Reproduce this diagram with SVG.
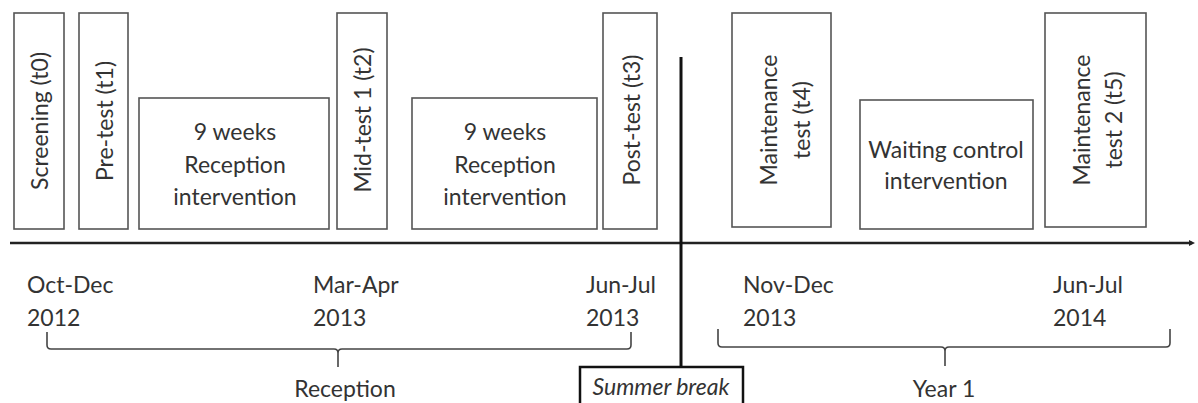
<svg xmlns="http://www.w3.org/2000/svg" width="1198" height="403" viewBox="0 0 1198 403">
<defs>
<style>
.box{fill:#fff;stroke:#555;stroke-width:1.6}
.t{font-family:Lato,"Open Sans","Liberation Sans",sans-serif;font-size:23px;fill:#333}
.c{text-anchor:middle}
.br{fill:none;stroke:#444;stroke-width:1.6}
.axis{fill:none;stroke:#222;stroke-width:2.5}
</style>
<marker id="arr" markerWidth="6" markerHeight="6" refX="3" refY="3" orient="auto" markerUnits="userSpaceOnUse">
<path d="M0,0 L6,3 L0,6 Z" fill="#222"/>
</marker>
</defs>
<rect width="1198" height="403" fill="#fff"/>

<g id="connectors">
<line class="axis" x1="10" y1="243" x2="1192" y2="243" marker-end="url(#arr)"/>
<line x1="681" y1="57" x2="681" y2="368" stroke="#111" stroke-width="3"/>
<path class="br" d="M47,332 V345 Q47,349 51,349 H334 Q338,349 338,353 V367 M338,353 Q338,349 342,349 H627 Q631,349 631,345 V332"/>
<path class="br" d="M718,329 V343 Q718,347 722,347 H941 Q945,347 945,351 V366 M945,351 Q945,347 949,347 H1166 Q1170,347 1170,343 V329"/>
</g>

<g id="screening">
<rect class="box" x="14" y="13" width="50" height="216"/>
<text class="t c" transform="translate(48,121) rotate(-90)">Screening (t0)</text>
</g>
<g id="pretest">
<rect class="box" x="79" y="13" width="49" height="216"/>
<text class="t c" transform="translate(113,121) rotate(-90)">Pre-test (t1)</text>
</g>
<g id="intervention1">
<rect class="box" x="139" y="98" width="190" height="131"/>
<text class="t c" x="235" y="140">9 weeks</text>
<text class="t c" x="235" y="173">Reception</text>
<text class="t c" x="235" y="205">intervention</text>
</g>
<g id="midtest">
<rect class="box" x="337" y="13" width="50" height="216"/>
<text class="t c" transform="translate(371,120) rotate(-90)">Mid-test 1 (t2)</text>
</g>
<g id="intervention2">
<rect class="box" x="412" y="98" width="185" height="131"/>
<text class="t c" x="505" y="140">9 weeks</text>
<text class="t c" x="505" y="173">Reception</text>
<text class="t c" x="505" y="205">intervention</text>
</g>
<g id="posttest">
<rect class="box" x="603" y="13" width="54" height="216"/>
<text class="t c" transform="translate(640,120) rotate(-90)">Post-test (t3)</text>
</g>
<g id="maintenance1">
<rect class="box" x="732" y="13" width="99" height="214"/>
<text class="t c" transform="translate(777,120) rotate(-90)">Maintenance</text>
<text class="t c" transform="translate(810,120) rotate(-90)">test (t4)</text>
</g>
<g id="waiting">
<rect class="box" x="860" y="100" width="173" height="129"/>
<text class="t c" x="946" y="158">Waiting control</text>
<text class="t c" x="946" y="189">intervention</text>
</g>
<g id="maintenance2">
<rect class="box" x="1045" y="13" width="101" height="214"/>
<text class="t c" transform="translate(1090,120) rotate(-90)">Maintenance</text>
<text class="t c" transform="translate(1122,120) rotate(-90)">test 2 (t5)</text>
</g>

<g id="dates">
<text class="t" x="27" y="293">Oct-Dec</text>
<text class="t" x="27" y="326">2012</text>
<text class="t" x="313" y="293">Mar-Apr</text>
<text class="t" x="313" y="326">2013</text>
<text class="t" x="586" y="293">Jun-Jul</text>
<text class="t" x="586" y="326">2013</text>
<text class="t" x="743" y="293">Nov-Dec</text>
<text class="t" x="743" y="326">2013</text>
<text class="t" x="1053" y="293">Jun-Jul</text>
<text class="t" x="1053" y="326">2014</text>
</g>
<g id="reception">
<text class="t c" x="345" y="397">Reception</text>
</g>
<g id="year1">
<text class="t c" x="944" y="397">Year 1</text>
</g>
<g id="summer">
<rect x="580" y="367" width="163" height="50" fill="#fff" stroke="#111" stroke-width="2.5"/>
<text class="t c" x="661" y="395" font-style="italic" font-size="20">Summer break</text>
</g>
</svg>
